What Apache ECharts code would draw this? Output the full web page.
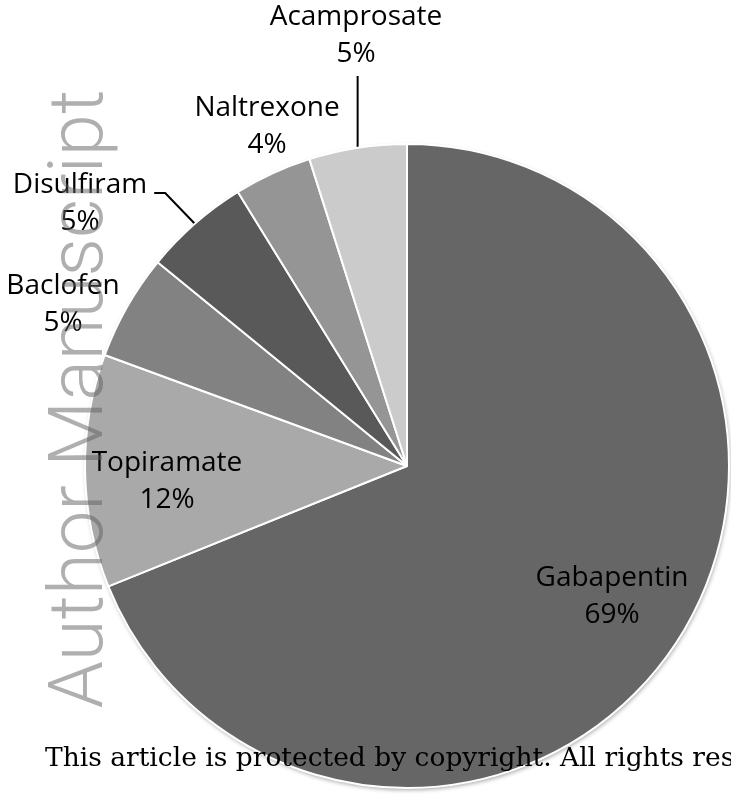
<!DOCTYPE html>
<html>
<head>
<meta charset="utf-8">
<script src="https://cdn.jsdelivr.net/npm/echarts@6/dist/echarts.min.js"></script>
<style>
  html, body { margin: 0; padding: 0; background: #fff; }
  #chart { width: 731px; height: 797px; }
</style>
</head>
<body>
<div id="chart"></div>
<script>
// data (share of prescriptions, %)
const drugs = ['Gabapentin', 'Topiramate', 'Baclofen', 'Disulfiram', 'Naltrexone', 'Acamprosate']
const shares = [68.9, 11.7, 5.3, 5.3, 3.9, 4.9]
const shades = ['#666666', '#a9a9a9', '#828282', '#595959', '#959595', '#cbcbcb']

// label box centres, as Excel placed them
const labelSpots = [[612, 597], [167, 482], [63, 305], [80, 204], [267, 127], [356, 36]]
const withLeader = [false, false, false, true, false, true]

const CX = 407, CY = 466, R = 322
const total = shares.reduce((a, b) => a + b, 0)

// point on the rim at the middle of slice i (clockwise from 12 o'clock)
function rimPoint(i) {
    let before = 0
    for (let k = 0; k < i; k++) before += shares[k]
    const a = (before + shares[i] / 2) / total * Math.PI * 2
    return [CX + R * Math.sin(a), CY - R * Math.cos(a)]
}

const chart = echarts.init(document.getElementById('chart'))

chart.setOption({
    animation: false,
    backgroundColor: '#fff',
    series: [
        {
            // plain disc under the pie, only for the soft rim shadow
            type: 'pie',
            silent: true,
            center: [CX, CY],
            radius: R,
            z: 1,
            label: { show: false },
            labelLine: { show: false },
            itemStyle: {
                color: '#fff',
                shadowBlur: 4,
                shadowOffsetX: 1,
                shadowOffsetY: 2,
                shadowColor: 'rgba(0,0,0,0.35)'
            },
            data: [{ value: 1, name: '' }]
        },
        {
            type: 'pie',
            center: [CX, CY],
            radius: R,
            z: 2,
            startAngle: 90,
            clockwise: true,
            avoidLabelOverlap: false,
            percentPrecision: 0,
            itemStyle: { borderColor: '#fff', borderWidth: 2 },
            label: {
                show: true,
                position: 'outside',
                formatter: '{b}\n{d}%',
                fontFamily: '"Open Sans", sans-serif',
                fontSize: 28,
                lineHeight: 37,
                color: '#000',
                align: 'center'
            },
            labelLine: {
                show: true,
                length: 10,
                length2: 10,
                lineStyle: { color: '#000', width: 2 }
            },
            labelLayout: function (p) {
                const i = p.dataIndex
                const x = labelSpots[i][0], y = labelSpots[i][1]
                const out = { x: x, y: y, align: 'center', verticalAlign: 'middle' }
                if (withLeader[i]) {
                    const e = rimPoint(i)
                    const w = p.labelRect.width, h = p.labelRect.height
                    if (Math.abs(e[0] - x) < w / 2) {
                        // label sits above the slice: straight up from the rim
                        out.labelLinePoints = [e, [e[0], y + h / 2 + 3], [e[0], y + h / 2 + 3]]
                    } else {
                        // label sits to the left: elbow into the right side of the label
                        out.labelLinePoints = [e, [x + w / 2 + 18, y - 11], [x + w / 2 + 7, y - 11]]
                    }
                }
                return out
            },
            data: drugs.map((name, i) => ({
                name: name,
                value: shares[i],
                itemStyle: { color: shades[i] },
                labelLine: { show: withLeader[i] }
            }))
        }
    ],
    graphic: [
        {
            type: 'text',
            x: 121,
            y: 399,
            rotation: Math.PI / 2,
            z: 100,
            silent: true,
            style: {
                text: 'Author Manuscript',
                font: '300 76px Roboto, "Liberation Sans", sans-serif',
                fill: 'rgba(95,95,95,0.5)',
                align: 'center',
                verticalAlign: 'bottom'
            }
        },
        {
            type: 'text',
            x: 45,
            y: 759,
            z: 100,
            silent: true,
            style: {
                text: 'This article is protected by copyright. All rights res',
                font: '26.5px "DejaVu Serif", serif',
                fill: '#000',
                align: 'left',
                verticalAlign: 'middle'
            }
        }
    ]
})
</script>
</body>
</html>
